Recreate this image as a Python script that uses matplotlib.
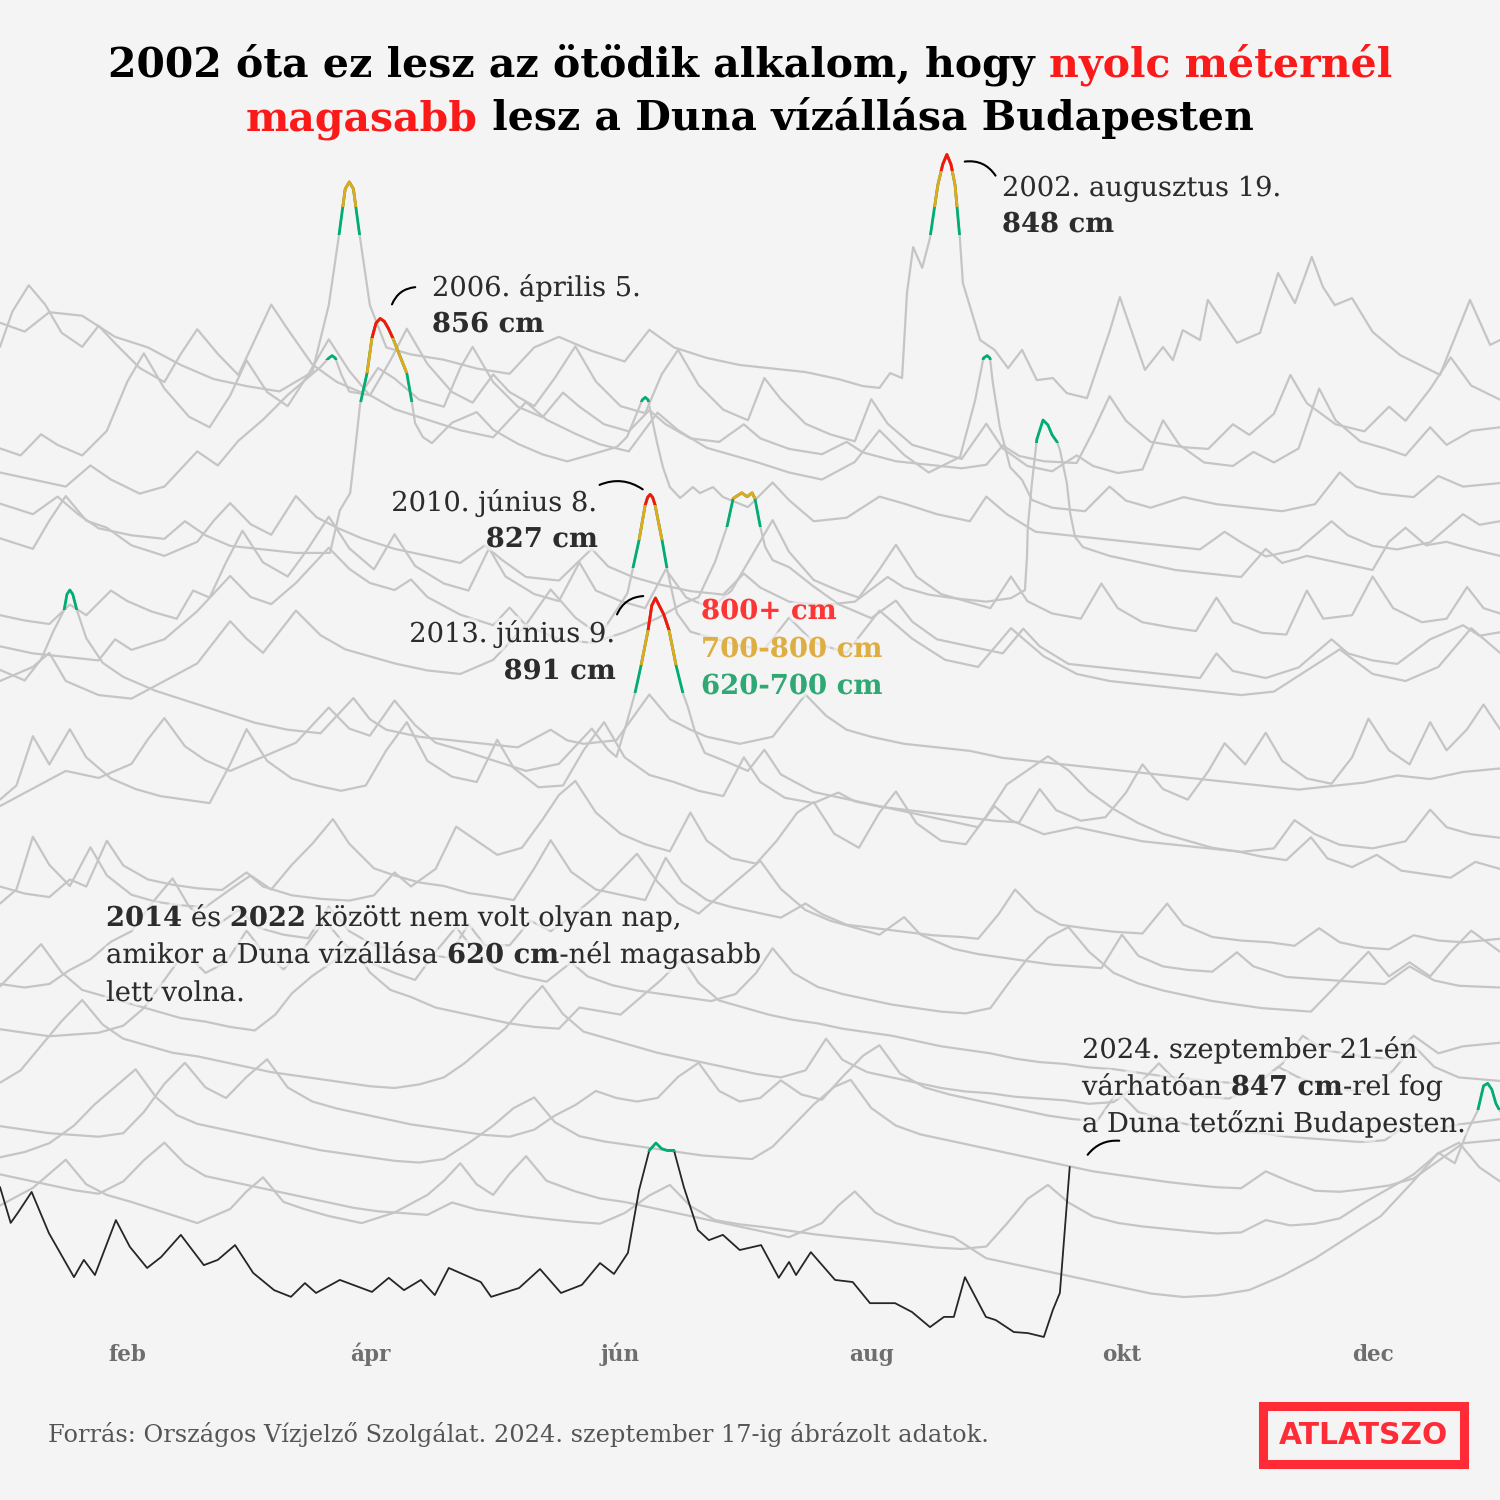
import matplotlib
matplotlib.use("Agg")
import matplotlib.pyplot as plt
import matplotlib.patheffects as pe
from matplotlib.patches import Rectangle, FancyArrowPatch

# Danube level in Budapest (cm), (day of year, level) points
lv2002 = [(0, 370), (6, 345), (12, 400), (20, 390), (28, 330), (36, 300), (44, 250), (52, 210), (60, 190),
          (68, 175), (76, 230), (80, 420), (82.5, 620), (84, 750), (85, 770), (86, 750), (87.5, 620), (90, 420),
          (94, 300), (100, 280), (108, 265), (116, 240), (124, 225), (130, 300), (136, 330), (144, 290),
          (152, 260), (158, 350), (164, 300), (172, 270), (180, 250), (188, 240), (196, 230), (204, 210),
          (210, 190), (214, 185), (216.6, 227), (219.5, 213), (220.7, 455), (222.2, 585), (224.4, 526),
          (226.3, 611), (228.2, 761), (229.4, 820), (230.4, 848), (231.4, 820), (232.4, 761), (233.6, 605),
          (234.3, 483), (238.5, 321), (242, 293), (245.3, 241), (248.7, 293), (252.3, 207), (256.2, 213),
          (259.6, 170), (264.5, 156), (270.1, 349), (272.5, 443), (278.6, 236), (283, 301), (285.4, 264),
          (287.8, 349), (292, 321), (293.9, 435), (301, 313), (306.6, 341), (311, 511), (315.1, 426),
          (319.2, 557), (321.9, 472), (324.8, 420), (329, 440), (334, 344), (340.7, 278), (350.4, 222),
          (357.7, 435), (362.6, 307), (365, 321)]
lv2003 = [(0, 420), (3, 520), (7, 595), (11, 540), (15, 460), (20, 420), (24, 480), (28, 430), (34, 360),
          (40, 320), (44, 400), (48, 470), (53, 400), (58, 340), (62, 440), (66, 540), (70, 470), (76, 370),
          (82, 320), (88, 290), (92, 360), (96, 330), (102, 270), (108, 250), (112, 360), (115, 420), (120, 320),
          (126, 250), (132, 220), (137, 290), (141, 250), (147, 200), (153, 180), (158, 240), (162, 200),
          (168, 160), (175, 150), (181, 200), (185, 160), (192, 130), (200, 115), (206, 150), (210, 120),
          (218, 95), (226, 85), (234, 75), (240, 85), (244, 140), (248, 110), (254, 95), (262, 90), (266, 180),
          (270, 280), (274, 210), (280, 150), (288, 135), (294, 130), (300, 200), (304, 170), (310, 230),
          (314, 340), (318, 260), (325, 200), (332, 180), (338, 250), (342, 210), (348, 300), (353, 390),
          (358, 310), (365, 270)]
lv2004 = [(0, 250), (5, 230), (10, 290), (14, 260), (20, 230), (26, 300), (31, 440), (35, 520), (40, 420),
          (46, 340), (51, 310), (56, 400), (60, 500), (65, 410), (70, 370), (75, 460), (80, 560), (85, 470),
          (90, 400), (95, 500), (99, 590), (104, 490), (110, 410), (115, 380), (120, 460), (124, 410),
          (130, 370), (135, 450), (140, 540), (145, 440), (151, 370), (157, 350), (161, 460), (165, 530),
          (170, 430), (176, 360), (182, 330), (186, 450), (190, 390), (196, 320), (202, 290), (208, 270),
          (212, 390), (216, 320), (222, 260), (228, 240), (234, 220), (240, 320), (244, 250), (250, 200),
          (256, 185), (262, 230), (266, 200), (272, 180), (278, 190), (283, 330), (287, 260), (293, 210),
          (300, 200), (305, 240), (310, 210), (316, 250), (321, 420), (325, 330), (331, 270), (337, 250),
          (342, 230), (348, 310), (352, 260), (358, 300), (365, 310)]
lv2005 = [(0, 300), (8, 280), (16, 260), (22, 320), (27, 280), (34, 240), (40, 260), (48, 360), (53, 320),
          (58, 390), (64, 450), (70, 520), (75, 570), (78, 600), (80, 625), (80.8, 632), (81.6, 625), (83, 580),
          (85, 530), (90, 520), (96, 480), (104, 450), (112, 420), (120, 400), (128, 500), (133, 450),
          (140, 410), (146, 380), (153, 360), (160, 470), (165, 420), (172, 370), (178, 350), (184, 330),
          (192, 300), (200, 280), (208, 330), (214, 420), (220, 350), (226, 300), (233.6, 344), (237.3, 506),
          (239.3, 625), (240.2, 632), (240.9, 625), (241.6, 554), (243.3, 429), (245.8, 315), (248.7, 279),
          (251.1, 222), (256, 200), (264, 190), (270, 260), (274, 220), (280, 200), (288, 230), (296, 210),
          (304, 200), (312, 190), (320, 210), (326, 300), (330, 260), (336, 240), (344, 230), (350, 290),
          (356, 260), (365, 270)]
lv2006 = [(0, 330), (8, 300), (14, 350), (19, 300), (24, 260), (32, 240), (40, 230), (45, 280), (50, 240),
          (56, 210), (64, 200), (72, 190), (80.3, 190), (82.7, 311), (85.2, 360), (86.4, 482), (87.6, 610),
          (89.3, 700), (90.5, 800), (91.5, 843), (92.5, 856), (93.5, 848), (94.5, 828), (95.6, 800), (99, 700),
          (100.2, 620), (101, 559), (102.9, 519), (105.1, 502), (110, 560), (116, 590), (120, 540), (126, 500),
          (132, 470), (138, 450), (144, 470), (150.1, 491), (152.6, 520), (155, 588), (156.3, 625), (157, 632),
          (157.7, 625), (158.2, 596), (159.9, 502), (161.3, 434), (163, 377), (165.5, 346), (168.6, 377),
          (170.3, 360), (173.5, 377), (175.9, 349), (182, 320), (188, 390), (192, 340), (198, 280), (206, 290),
          (214, 350), (220, 330), (228, 300), (236, 280), (240, 350), (245, 300), (252, 250), (260, 240),
          (268, 230), (276, 220), (284, 210), (292, 200), (298, 250), (302, 220), (308, 180), (316, 200),
          (324, 280), (328, 240), (334, 210), (340, 200), (348, 220), (356, 300), (360, 270), (365, 280)]
lv2007 = [(0, 350), (8, 320), (12, 400), (16, 470), (21, 400), (26, 380), (32, 330), (40, 300), (48, 340),
          (52, 400), (56, 450), (61, 390), (66, 360), (72, 470), (77, 410), (82, 380), (88, 350), (96, 320),
          (104, 300), (112, 280), (118, 330), (122, 290), (128, 240), (136, 230), (144, 320), (148, 270),
          (154, 240), (160, 220), (168, 200), (176, 190), (181, 250), (185, 210), (192, 170), (200, 160),
          (208, 170), (216, 240), (220, 210), (226, 190), (232, 180), (240, 170), (246, 180), (249.4, 203),
          (249.9, 297), (250.1, 382), (251.1, 507), (252.3, 631), (253.8, 686), (255, 672), (256, 644),
          (257.2, 624), (257.9, 602), (259.6, 507), (260.4, 422), (261.6, 354), (263.5, 325), (270, 300),
          (278, 280), (286, 260), (294, 250), (302, 240), (308, 320), (312, 280), (318, 300), (326, 280),
          (334, 260), (338, 340), (342, 380), (347, 330), (352, 340), (358, 320), (365, 300)]
lv2008 = [(0, 250), (6, 235), (12, 225), (17, 280), (21, 250), (27, 320), (31, 290), (37, 260), (43, 240),
          (47, 320), (51, 300), (55, 400), (59, 490), (64, 400), (70, 360), (75, 440), (80, 530), (85, 440),
          (91, 380), (96, 480), (101, 390), (108, 340), (114, 320), (119, 440), (123, 360), (130, 310),
          (136, 290), (141, 400), (145, 320), (151, 290), (157, 270), (162, 380), (167, 300), (173, 270),
          (178, 320), (183, 420), (188, 520), (192, 430), (198, 350), (204, 320), (209, 300), (214, 380),
          (218, 450), (223, 360), (229, 310), (235, 290), (241, 270), (246, 360), (250, 290), (256, 255),
          (263, 240), (268, 340), (272, 270), (278, 230), (285, 215), (291, 205), (296, 300), (300, 230),
          (307, 200), (313, 195), (318, 320), (322, 240), (329, 250), (334, 360), (339, 270), (346, 230),
          (352, 240), (357, 330), (361, 270), (365, 255)]
lv2009 = [(0, 280), (8, 260), (16, 250), (24, 240), (28, 300), (32, 270), (40, 300), (48, 380), (52, 430),
          (56, 480), (61, 420), (66, 400), (72, 460), (80, 560), (85, 500), (90, 460), (96, 440), (100, 470),
          (104, 420), (112, 370), (120, 340), (124, 390), (128, 340), (136, 300), (144, 290), (152, 320),
          (160, 360), (166, 400), (170, 420), (174, 520), (176.9, 620), (178.4, 700), (180.5, 716),
          (181.8, 705), (183, 716), (183.7, 700), (185, 620), (186.2, 562), (188, 525), (192, 505), (198, 450),
          (204, 400), (212, 360), (218, 410), (222, 350), (228, 300), (236, 280), (244, 260), (249, 330),
          (253, 280), (260, 230), (268, 220), (276, 210), (284, 200), (292, 190), (296, 260), (300, 210),
          (308, 190), (316, 220), (324, 300), (328, 260), (334, 240), (340, 230), (348, 300), (356, 340),
          (360, 310), (365, 320)]
lv2010 = [(0, 300), (8, 340), (12, 380), (16, 300), (24, 260), (32, 250), (40, 300), (48, 350), (56, 470),
          (60, 420), (64, 380), (72, 500), (78, 430), (84, 390), (90, 370), (96, 350), (104, 330), (112, 320),
          (120, 360), (128, 460), (134, 560), (140, 480), (146, 430), (150.5, 510), (152.7, 550), (154, 620),
          (155.5, 700), (157, 800), (157.6, 822), (158.2, 830), (158.8, 822), (159.4, 800), (161.1, 700),
          (162.3, 620), (163.8, 539), (164.7, 493), (168, 440), (174, 420), (180, 400), (186, 390), (192, 480),
          (198, 410), (206, 380), (214, 500), (222, 420), (230, 360), (238, 340), (246, 450), (254, 370),
          (262, 320), (270, 300), (278, 290), (286, 280), (294, 270), (302, 260), (310, 270), (318, 330),
          (326, 390), (334, 320), (342, 300), (350, 340), (358, 450), (365, 380)]
lv2011 = [(0, 450), (6, 420), (10, 480), (13, 560), (15.6, 620), (16.3, 665), (17, 677), (17.7, 665),
          (18.7, 620), (21, 540), (25, 470), (30, 430), (38, 390), (46, 360), (54, 330), (62, 300), (70, 280),
          (78, 270), (82, 320), (86, 370), (90, 310), (94, 280), (102, 260), (110, 250), (118, 240), (126, 230),
          (134, 280), (138, 250), (142, 240), (150, 250), (158, 380), (163, 310), (168, 280), (172, 260),
          (180, 240), (188, 260), (196, 380), (201, 320), (206, 280), (212, 260), (220, 240), (228, 230),
          (236, 220), (244, 200), (252, 190), (260, 180), (268, 170), (276, 160), (284, 150), (292, 140),
          (300, 130), (308, 120), (316, 110), (324, 120), (332, 130), (340, 150), (348, 140), (356, 160),
          (365, 170)]
lv2012 = [(0, 200), (4, 240), (8, 380), (12, 300), (17, 400), (21, 320), (27, 260), (33, 230), (39, 210),
          (45, 200), (51, 190), (56, 300), (60, 400), (65, 310), (71, 260), (77, 240), (83, 225), (89, 240),
          (94, 340), (99, 420), (104, 310), (110, 265), (116, 250), (121, 370), (125, 290), (131, 235),
          (137, 240), (142, 340), (147, 420), (152, 320), (158, 270), (164, 250), (170, 225), (176, 210),
          (181, 320), (185, 250), (191, 205), (198, 190), (204, 220), (208, 195), (214, 180), (221, 170),
          (228, 160), (235, 150), (242, 140), (248, 135), (253, 230), (257, 170), (263, 140), (269, 150),
          (274, 220), (278, 300), (283, 230), (289, 200), (294, 280), (298, 360), (303, 300), (308, 390),
          (312, 310), (318, 260), (324, 245), (329, 320), (333, 430), (338, 340), (343, 300), (348, 420),
          (352, 340), (357, 400), (361, 470), (365, 400)]
lv2013 = [(0, 300), (8, 350), (16, 400), (24, 380), (32, 420), (36, 490), (40, 550), (45, 470), (50, 430),
          (56, 400), (64, 440), (72, 480), (80, 580), (85, 520), (90, 500), (96, 600), (101, 530), (106, 480),
          (112, 460), (120, 430), (128, 400), (136, 420), (144, 520), (148, 460), (150, 440), (152.5, 537),
          (154.5, 620), (156, 700), (157.7, 800), (158.6, 870), (159.5, 891), (160.4, 870), (161.5, 845),
          (162.8, 800), (164.5, 700), (166.2, 620), (167.4, 581), (169, 516), (171.5, 451), (176, 430),
          (182, 400), (186, 460), (190, 390), (198, 340), (206, 320), (214, 300), (222, 280), (230, 260),
          (238, 240), (242, 300), (246, 260), (254, 220), (262, 240), (270, 220), (278, 200), (286, 190),
          (294, 180), (302, 170), (310, 180), (315, 260), (320, 220), (326, 190), (334, 180), (342, 200),
          (348, 290), (352, 240), (358, 220), (365, 210)]
lv2014 = [(0, 190), (6, 170), (12, 160), (17, 210), (21, 190), (26, 320), (30, 250), (36, 210), (42, 195),
          (48, 185), (54, 180), (60, 230), (64, 190), (71, 165), (78, 155), (85, 150), (91, 165), (96, 230),
          (100, 190), (106, 240), (111, 360), (116, 320), (121, 280), (127, 300), (132, 380), (136, 450),
          (140, 490), (145, 400), (151, 340), (157, 310), (163, 290), (168, 400), (172, 320), (178, 270),
          (184, 255), (189, 320), (194, 400), (198, 430), (203, 340), (209, 300), (214, 400), (218, 460),
          (223, 370), (229, 320), (235, 310), (240, 390), (245, 480), (250, 520), (255, 560), (260, 520),
          (265, 460), (271, 410), (277, 370), (283, 340), (289, 320), (295, 300), (301, 290), (307, 275),
          (313, 265), (319, 330), (323, 270), (329, 245), (335, 280), (341, 235), (347, 225), (353, 215),
          (359, 260), (365, 240)]
lv2015 = [(0, 260), (4, 300), (8, 450), (12, 370), (17, 310), (22, 420), (26, 340), (32, 285), (38, 265),
          (44, 255), (50, 250), (56, 300), (61, 340), (66, 300), (71, 370), (76, 430), (81, 500), (85, 430),
          (91, 360), (96, 340), (102, 320), (108, 310), (114, 290), (120, 280), (125, 270), (130, 360),
          (134, 440), (139, 350), (145, 300), (151, 285), (157, 270), (162, 390), (166, 320), (172, 270),
          (178, 250), (184, 235), (190, 220), (196, 260), (200, 230), (206, 200), (213, 190), (220, 180),
          (227, 170), (234, 165), (238, 160), (243, 230), (247, 300), (252, 240), (258, 200), (264, 190),
          (271, 180), (278, 175), (284, 260), (288, 200), (295, 165), (302, 155), (309, 150), (315, 140),
          (321, 190), (326, 150), (332, 135), (338, 130), (344, 170), (350, 155), (356, 150), (365, 160)]
lv2016 = [(0, 150), (6, 140), (12, 150), (17, 190), (22, 220), (27, 270), (32, 300), (37, 380), (42, 450),
          (46, 370), (52, 310), (58, 360), (63, 310), (69, 290), (75, 280), (80, 370), (85, 300), (91, 260),
          (97, 245), (103, 235), (109, 225), (114, 320), (118, 260), (124, 260), (129, 330), (134, 300),
          (140, 350), (145, 400), (150, 460), (155, 520), (160, 440), (165, 380), (170, 350), (175, 400),
          (180, 450), (185, 500), (190, 420), (196, 360), (202, 330), (208, 310), (214, 290), (220, 340),
          (224, 290), (232, 250), (238, 235), (244, 225), (250, 215), (256, 205), (262, 200), (268, 195),
          (273, 290), (277, 230), (283, 200), (289, 190), (295, 185), (301, 240), (305, 200), (313, 170),
          (319, 165), (325, 160), (331, 155), (337, 150), (343, 200), (349, 160), (355, 145), (365, 140)]
lv2017 = [(0, 140), (6, 130), (12, 120), (18, 125), (24, 130), (30, 150), (35, 200), (40, 280), (45, 360),
          (50, 300), (55, 330), (60, 420), (64, 360), (69, 310), (74, 370), (79, 450), (84, 380), (90, 330),
          (96, 300), (101, 280), (106, 360), (111, 430), (115, 370), (121, 310), (127, 290), (133, 275),
          (139, 330), (143, 290), (149, 265), (155, 250), (161, 240), (167, 230), (173, 220), (179, 240),
          (184, 300), (188, 370), (193, 300), (199, 260), (205, 240), (211, 225), (217, 210), (223, 200),
          (229, 190), (235, 185), (241, 200), (246, 280), (250, 340), (255, 400), (260, 430), (265, 360),
          (271, 300), (277, 270), (283, 250), (289, 235), (295, 220), (301, 210), (307, 200), (313, 195),
          (319, 190), (324, 250), (328, 300), (333, 360), (338, 290), (343, 330), (348, 290), (353, 360),
          (358, 420), (365, 360)]
lv2018 = [(0, 380), (5, 440), (10, 500), (15, 420), (20, 370), (26, 350), (32, 330), (38, 310), (44, 290),
          (50, 280), (56, 265), (62, 255), (67, 300), (71, 360), (76, 410), (81, 450), (86, 490), (90, 420),
          (95, 370), (100, 350), (106, 320), (112, 305), (118, 290), (124, 275), (130, 265), (136, 260),
          (141, 320), (146, 310), (151, 300), (156, 350), (161, 400), (166, 460), (170, 390), (175, 340),
          (181, 320), (187, 300), (193, 285), (199, 275), (205, 260), (211, 250), (217, 240), (223, 225),
          (229, 210), (235, 200), (241, 190), (247, 175), (253, 165), (259, 160), (265, 150), (271, 145),
          (277, 135), (283, 125), (289, 118), (295, 110), (301, 105), (307, 115), (312, 160), (317, 240),
          (322, 200), (327, 190), (332, 180), (338, 175), (344, 240), (350, 190), (356, 210), (365, 220)]
lv2019 = [(0, 225), (5, 260), (10, 330), (15, 400), (20, 460), (25, 390), (30, 350), (36, 330), (42, 310),
          (48, 300), (54, 285), (60, 270), (66, 255), (72, 245), (78, 235), (84, 225), (90, 215), (96, 210),
          (102, 220), (108, 240), (113, 280), (118, 330), (123, 380), (128, 450), (132, 500), (137, 420),
          (142, 370), (148, 350), (154, 330), (160, 310), (166, 295), (172, 280), (178, 265), (184, 250),
          (190, 240), (196, 260), (201, 350), (205, 290), (211, 255), (217, 240), (223, 225), (229, 210),
          (235, 200), (241, 195), (247, 185), (253, 180), (259, 175), (265, 165), (271, 170), (277, 220),
          (282, 280), (287, 220), (293, 185), (299, 180), (305, 210), (311, 270), (316, 240), (321, 220),
          (327, 205), (333, 200), (339, 260), (344, 330), (349, 270), (355, 240), (365, 230)]
lv2020 = [(0, 220), (6, 210), (12, 200), (18, 195), (24, 190), (30, 200), (35, 260), (40, 340), (45, 400),
          (50, 330), (55, 300), (60, 360), (65, 410), (70, 330), (76, 290), (82, 270), (88, 255), (94, 240),
          (100, 225), (106, 215), (112, 205), (118, 195), (124, 190), (130, 210), (135, 250), (140, 280),
          (145, 320), (150, 300), (155, 290), (160, 300), (165, 360), (170, 400), (175, 320), (180, 290),
          (185, 300), (190, 350), (195, 310), (200, 295), (205, 360), (210, 420), (214, 450), (219, 370),
          (225, 330), (231, 310), (237, 295), (243, 280), (249, 265), (255, 250), (261, 240), (267, 235),
          (272, 320), (277, 260), (283, 240), (289, 225), (295, 215), (301, 205), (307, 200), (313, 190),
          (319, 185), (325, 180), (331, 175), (337, 180), (343, 230), (349, 210), (355, 225), (365, 240)]
lv2021 = [(0, 250), (6, 265), (12, 290), (18, 340), (23, 400), (28, 450), (33, 500), (38, 420), (43, 370),
          (48, 345), (54, 330), (60, 315), (66, 300), (72, 285), (78, 270), (84, 260), (90, 250), (96, 240),
          (102, 235), (108, 245), (114, 290), (120, 340), (125, 390), (130, 420), (135, 350), (141, 310),
          (147, 295), (153, 285), (159, 275), (165, 265), (171, 255), (177, 250), (183, 245), (188, 280),
          (193, 340), (198, 400), (203, 450), (207, 470), (212, 390), (218, 340), (224, 315), (230, 300),
          (236, 285), (242, 270), (248, 255), (254, 240), (260, 225), (266, 210), (272, 200), (278, 190),
          (284, 180), (290, 172), (296, 165), (302, 162), (308, 210), (314, 180), (320, 155), (326, 152),
          (332, 160), (338, 170), (344, 190), (350, 240), (356, 290), (365, 300)]
lv2022 = [(0, 320), (6, 305), (12, 290), (18, 275), (24, 265), (30, 300), (35, 360), (40, 410), (45, 350),
          (50, 315), (56, 300), (62, 285), (68, 270), (74, 255), (80, 240), (86, 225), (92, 215), (98, 210),
          (104, 205), (110, 240), (116, 220), (122, 210), (128, 200), (134, 192), (140, 185), (146, 180),
          (152, 210), (158, 260), (163, 290), (168, 230), (174, 190), (180, 178), (186, 170), (192, 160),
          (198, 150), (204, 142), (210, 135), (216, 128), (222, 120), (228, 112), (234, 108), (240, 115),
          (245, 180), (250, 250), (255, 290), (260, 240), (266, 200), (272, 182), (278, 172), (284, 165),
          (290, 158), (296, 152), (302, 155), (308, 190), (314, 175), (320, 180), (326, 195), (332, 240),
          (338, 280), (344, 320), (350, 380), (355, 410), (360, 340), (365, 300)]
lv2023 = [(0, 350), (8, 400), (12, 440), (16, 480), (21, 410), (26, 380), (32, 360), (40, 330), (48, 300),
          (56, 340), (60, 390), (64, 430), (69, 360), (74, 340), (80, 320), (88, 300), (96, 330), (104, 380),
          (108, 420), (112, 470), (116, 410), (120, 380), (124, 440), (128, 490), (133, 420), (140, 390),
          (146, 370), (152, 360), (160, 340), (168, 320), (176, 300), (184, 280), (192, 260), (200, 300),
          (204, 350), (208, 390), (213, 330), (218, 300), (224, 280), (232, 260), (240, 200), (248, 180),
          (256, 160), (264, 140), (272, 120), (280, 100), (288, 90), (296, 95), (304, 110), (312, 150),
          (320, 200), (328, 260), (336, 320), (344, 420), (350, 500), (354, 470), (357, 560), (359.6, 620),
          (361, 690), (362, 697), (363, 680), (364, 640), (365, 618)]
# 2024: data up to 17 September
lv2024 = [(0, 521), (2.6, 419), (4.3, 447), (7.7, 507), (11.9, 390), (18, 265), (20.4, 314), (23.1, 271),
          (28.2, 427), (31.6, 351), (35.8, 291), (39.2, 322), (44, 385), (49.6, 299), (53, 314), (57.2, 356),
          (61.6, 277), (66.7, 228), (70.8, 209), (74.2, 248), (76.9, 220), (82.7, 257), (90.5, 223), (94.6, 263),
          (98.3, 228), (102.4, 257), (105.8, 214), (109.2, 291), (117, 251), (119.5, 209), (126.3, 234),
          (131.4, 288), (136.5, 220), (141.6, 243), (146, 305), (149.4, 274), (152.8, 334), (155.5, 512),
          (158, 625), (159.6, 646), (161, 630), (162.3, 625), (164, 625), (166.4, 521), (169.8, 399),
          (172.5, 370), (175.9, 385), (180, 342), (185.2, 356), (189.5, 263), (192, 308), (193.7, 271),
          (197.3, 336), (203.2, 257), (207.5, 251), (211.7, 191), (217.8, 191), (221.9, 166), (226.3, 123),
          (229.7, 152), (232.1, 152), (234.8, 265), (239.9, 152), (242.3, 143), (246.7, 109), (250.1, 106),
          (254, 95), (256.2, 172), (257.9, 220), (260.3, 578)]

years = list(range(2002, 2025))
levels = [lv2002, lv2003, lv2004, lv2005, lv2006, lv2007, lv2008, lv2009, lv2010, lv2011, lv2012, lv2013,
          lv2014, lv2015, lv2016, lv2017, lv2018, lv2019, lv2020, lv2021, lv2022, lv2023, lv2024]

bands = [(620, '#00ad72'), (700, '#e3a81b'), (800, '#f71313')]
months = ['feb', 'ápr', 'jún', 'aug', 'okt', 'dec']
month_days = [31, 90, 151, 212, 273, 334]

BG = '#f4f4f4'
GRAY = '#c5c5c5'
INK = '#2c2c2c'
SERIF = 'DejaVu Serif'

PX_PER_CM = 0.352
ROW = 41.7 / PX_PER_CM      # vertical shift between years, in cm
TOP = 453 / PX_PER_CM

fig = plt.figure(figsize=(15, 15), dpi=100, facecolor=BG)
ax = fig.add_axes([0, 0, 1, 1])
ax.set_facecolor(BG)
ax.set_xlim(0, 365)
ax.set_ylim(TOP - 1500 / PX_PER_CM, TOP)
ax.axis('off')

for i, (yr, lv) in enumerate(zip(years, levels)):
    days = [p[0] for p in lv]
    cm = [p[1] - i * ROW for p in lv]
    last = yr == 2024
    ax.plot(days, cm, color='#262626' if last else GRAY, lw=1.3 if last else 1.6,
            solid_joinstyle='round', solid_capstyle='round', zorder=5 if last else 2)
    top = max(p[1] for p in lv)
    for thr, col in bands:
        if top > thr:
            ln, = ax.plot(days, cm, color=col, lw=2.0, solid_joinstyle='round',
                          zorder=6 if last else 3)
            ln.set_clip_path(Rectangle((-10, thr - i * ROW), 400, 5000, transform=ax.transData))

for d, m in zip(month_days, months):
    ax.text(d, 1 - 1361 / 1500, m, transform=ax.get_xaxis_transform(), ha='center', va='baseline',
            fontsize=15.5, fontweight='bold', color='#6e6e6e', family=SERIF)

# overlay in pixel coordinates for texts
ov = fig.add_axes([0, 0, 1, 1], zorder=10)
ov.set_xlim(0, 1500)
ov.set_ylim(1500, 0)
ov.axis('off')
ov.patch.set_alpha(0)

rend = fig.canvas.get_renderer()


def width(txt, size, weight, family=SERIF):
    t = ov.text(0, 0, txt, fontsize=size, fontweight=weight, family=family)
    w = t.get_window_extent(rend).width
    t.remove()
    return w


def advance(txt, size, weight):
    return width('x' + txt + 'x', size, weight) - width('xx', size, weight)


def fit(txt, weight, target):
    return 20 * target / width(txt, 20, weight)


halo = [pe.withStroke(linewidth=6, foreground=BG, alpha=0.65)]


def rich(parts, x, y, size, ha='left', effects=None):
    adv = [advance(t, size, w) for t, c, w in parts]
    total = sum(adv)
    x0 = {'left': x, 'right': x - total, 'center': x - total / 2}[ha]
    for (t, c, w), a in zip(parts, adv):
        ov.text(x0, y, t, color=c, fontsize=size, fontweight=w, family=SERIF, va='baseline',
                path_effects=effects)
        x0 += a


RED_T = '#fb1a1a'
tsize = fit('2002 óta ez lesz az ötödik alkalom, hogy nyolc méternél', 'bold', 1285)
rich([('2002 óta ez lesz az ötödik alkalom, hogy ', 'black', 'bold'), ('nyolc méternél', RED_T, 'bold')],
     750, 77, tsize, ha='center')
rich([('magasabb', RED_T, 'bold'), (' lesz a Duna vízállása Budapesten', 'black', 'bold')],
     750, 130, tsize, ha='center')

asize = fit('2002. augusztus 19.', 'normal', 279)
rich([('2002. augusztus 19.', INK, 'normal')], 1002, 196, asize, effects=halo)
rich([('848 cm', INK, 'bold')], 1002, 232, asize, effects=halo)
rich([('2006. április 5.', INK, 'normal')], 432, 296, asize, effects=halo)
rich([('856 cm', INK, 'bold')], 432, 332, asize, effects=halo)
rich([('2010. június 8.', INK, 'normal')], 598, 511, asize, ha='right', effects=halo)
rich([('827 cm', INK, 'bold')], 598, 547, asize, ha='right', effects=halo)
rich([('2013. június 9.', INK, 'normal')], 616, 642, asize, ha='right', effects=halo)
rich([('891 cm', INK, 'bold')], 616, 679, asize, ha='right', effects=halo)

lsize = fit('700-800 cm', 'bold', 181)
for txt, col, yb in [('800+ cm', '#fd3535', 619), ('700-800 cm', '#dfae43', 657), ('620-700 cm', '#2fa874', 694)]:
    rich([(txt, col, 'bold')], 701, yb, lsize, effects=halo)

rich([('2014', INK, 'bold'), (' és ', INK, 'normal'), ('2022', INK, 'bold'),
      (' között nem volt olyan nap,', INK, 'normal')], 106, 926, asize, effects=halo)
rich([('amikor a Duna vízállása ', INK, 'normal'), ('620 cm', INK, 'bold'), ('-nél magasabb', INK, 'normal')],
     106, 963, asize, effects=halo)
rich([('lett volna.', INK, 'normal')], 106, 1001, asize, effects=halo)

rich([('2024. szeptember 21-én', INK, 'normal')], 1082, 1058, asize, effects=halo)
rich([('várhatóan ', INK, 'normal'), ('847 cm', INK, 'bold'), ('-rel fog', INK, 'normal')],
     1082, 1095, asize, effects=halo)
rich([('a Duna tetőzni Budapesten.', INK, 'normal')], 1082, 1132, asize, effects=halo)

# connector arcs
for a, b, rad in [((962, 162), (997, 178), -0.35), ((391, 307), (418, 287), -0.35),
                  ((597, 486), (645, 491), -0.3), ((616, 617), (646, 596), -0.35),
                  ((1086, 1157), (1122, 1141), -0.3)]:
    ov.add_patch(FancyArrowPatch(a, b, arrowstyle='-', connectionstyle=f'arc3,rad={rad}',
                                 color='black', lw=1.5, transform=ov.transData))

fsize = fit('Forrás: Országos Vízjelző Szolgálat. 2024. szeptember 17-ig ábrázolt adatok.', 'normal', 937)
ov.text(48, 1442, 'Forrás: Országos Vízjelző Szolgálat. 2024. szeptember 17-ig ábrázolt adatok.',
        fontsize=fsize, color='#555555', family=SERIF, va='baseline')

# logo
ov.add_patch(Rectangle((1262.5, 1405.5), 201, 58, fill=False, edgecolor='#ff2b36', lw=6.5))
gsize = 20 * 169 / width('ATLATSZO', 20, 'heavy', 'DejaVu Sans')
ov.text(1363, 1435, 'ATLATSZO', fontsize=gsize, fontweight='heavy', family='DejaVu Sans',
        color='#ff2b36', ha='center', va='center')

fig.savefig('out.png', dpi=100, facecolor=BG)
